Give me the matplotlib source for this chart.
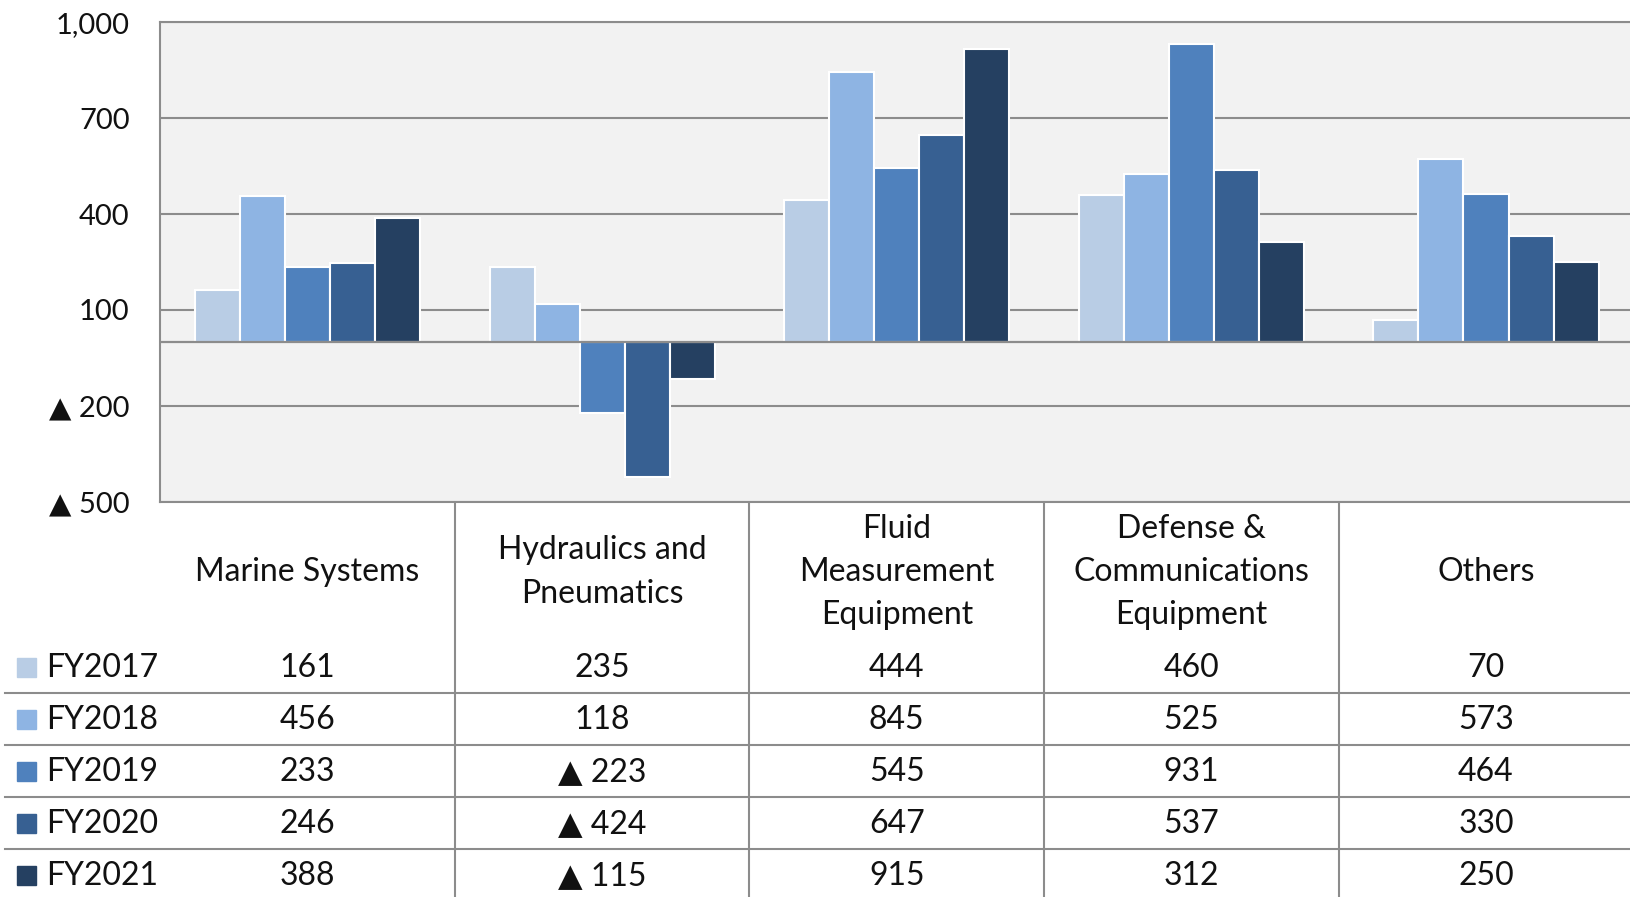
import matplotlib

matplotlib.use("Agg")
import matplotlib.pyplot as plt
import numpy as np

plt.rcParams["font.family"] = ["Lato", "DejaVu Sans"]

categories = [
    "Marine Systems",
    "Hydraulics and\nPneumatics",
    "Fluid\nMeasurement\nEquipment",
    "Defense &\nCommunications\nEquipment",
    "Others",
]
years = ["FY2017", "FY2018", "FY2019", "FY2020", "FY2021"]
fy2017 = [161, 235, 444, 460, 70]
fy2018 = [456, 118, 845, 525, 573]
fy2019 = [233, -223, 545, 931, 464]
fy2020 = [246, -424, 647, 537, 330]
fy2021 = [388, -115, 915, 312, 250]
series = [fy2017, fy2018, fy2019, fy2020, fy2021]
colors = ["#B9CDE5", "#8EB4E3", "#4F81BD", "#376092", "#254061"]
yticks = [-500, -200, 100, 400, 700, 1000]

GRID = "#8C8C8C"
W, H = 1631, 897
# plot area in pixels
left, top, bottom = 160.3, 22.3, 501.7
cat_w = 294.6


def fmt(v):
    # Japanese-style negative marker
    return f"\u25b2 {abs(v):,}" if v < 0 else f"{v:,}"


fig = plt.figure(figsize=(W / 100, H / 100), dpi=100)
ax = fig.add_axes([left / W, 1 - bottom / H, 5 * cat_w / W, (bottom - top) / H])
ax.set_facecolor("#F2F2F2")

x = np.arange(len(categories))
bw = 0.153
for i, (vals, c) in enumerate(zip(series, colors)):
    ax.bar(x + (i - 2) * bw, vals, width=bw, color=c, edgecolor="white",
           linewidth=1.5, zorder=2, label=years[i])

ax.set_xlim(-0.5, len(categories) - 0.5)
ax.set_ylim(-500, 1000)
ax.set_yticks(yticks)
ax.set_yticklabels([fmt(t) for t in yticks], fontsize=21, color="#111111")
ax.tick_params(axis="y", length=0, pad=22)
ax.set_xticks([])
ax.grid(axis="y", color=GRID, lw=1.5)
ax.set_axisbelow(True)
ax.axhline(0, color=GRID, lw=1.6, zorder=3)
ax.spines["right"].set_visible(False)
for side in ("left", "top", "bottom"):
    ax.spines[side].set_color(GRID)
    ax.spines[side].set_linewidth(1.5)

# data table below the plot, drawn in pixel coordinates
tab = fig.add_axes([0, 0, 1, 1], zorder=-1)
tab.set_xlim(0, W)
tab.set_ylim(H, 0)
tab.axis("off")

header_mid = 572
row_h = 52
row0 = 642
for k in range(1, 5):
    xv = left + k * cat_w
    tab.plot([xv, xv], [bottom, H], color=GRID, lw=1.5)
for r in range(1, 5):
    yv = row0 - 1 + r * row_h
    tab.plot([5, W], [yv, yv], color=GRID, lw=1.5)

for j, name in enumerate(categories):
    cx = left + (j + 0.5) * cat_w
    tab.text(cx, header_mid, name, ha="center", va="center", fontsize=23,
             linespacing=1.55, color="#111111")

for r, (yr, vals, c) in enumerate(zip(years, series, colors)):
    cy = row0 + (r + 0.5) * row_h
    tab.add_patch(plt.Rectangle((17, cy - 9.5), 19, 19, color=c))
    tab.text(46, cy, yr, ha="left", va="center", fontsize=23, color="#111111")
    for j, v in enumerate(vals):
        cx = left + (j + 0.5) * cat_w
        tab.text(cx, cy, fmt(v), ha="center", va="center", fontsize=23,
                 color="#111111")

fig.savefig("out.png", dpi=100)
